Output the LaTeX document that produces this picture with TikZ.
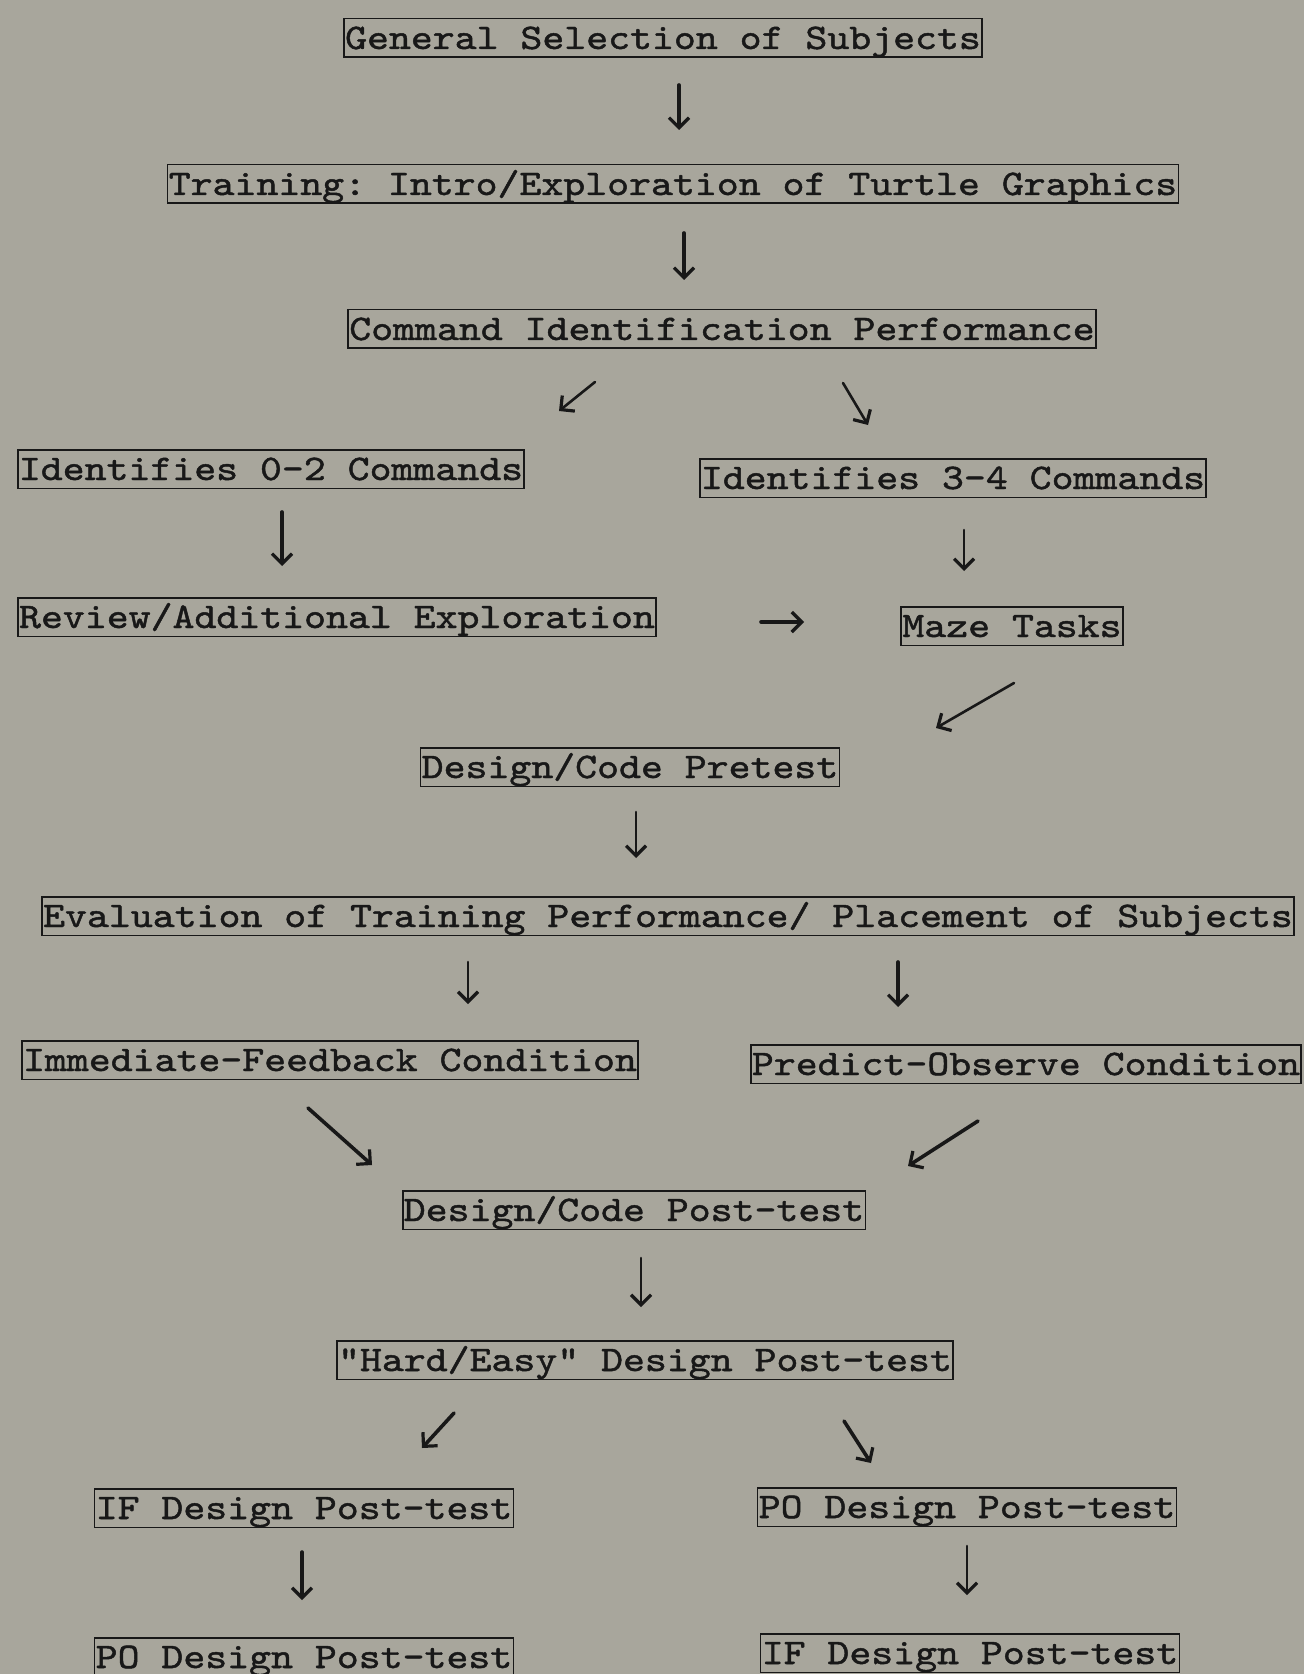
\documentclass[tikz,border=0pt]{standalone}
\usepackage{fontspec}
\usetikzlibrary{arrows.meta}
\newfontfamily\twf{lmmono10-regular.otf}[FakeBold=1.3, FakeStretch=1.16]
\definecolor{paper}{RGB}{168,166,156}
\definecolor{ink}{RGB}{24,24,24}
\frenchspacing
\begin{document}
\begin{tikzpicture}[x=0.5pt,y=-0.5pt,
  box/.style={draw=ink, text=ink, line width=0.9pt, inner xsep=0.6pt, inner ysep=4.2pt,
    text height=11pt, text depth=0pt, font=\fontsize{18}{20}\twf\frenchspacing},
  arr/.style={draw=ink, line width=1.8pt, line cap=round,
    -{Straight Barb[length=5pt,width=10pt,line width=1.6pt]}},
  arrthin/.style={arr, line width=1.3pt}]
\fill[paper] (0,0) rectangle (1304,1674);
\useasboundingbox (0,0) rectangle (1304,1674);

\node[box] (gen) at (663,38) {General Selection of Subjects};
\node[box] (train) at (673,184) {Training: Intro/Exploration of Turtle Graphics};
\node[box] (cmd) at (722,329) {Command Identification Performance};
\node[box] (id02) at (271,469) {Identifies 0-2 Commands};
\node[box] (id34) at (953,478) {Identifies 3-4 Commands};
\node[box] (review) at (337,617) {Review/Additional Exploration};
\node[box] (maze) at (1012,626) {Maze Tasks};
\node[box] (pre) at (630,767) {Design/Code Pretest};
\node[box] (eval) at (668,916) {Evaluation of Training Performance/ Placement of Subjects};
\node[box] (ifc) at (330,1060) {Immediate-Feedback Condition};
\node[box] (poc) at (1026,1064) {Predict-Observe Condition};
\node[box] (post) at (634,1210) {Design/Code Post-test};
\node[box] (hard) at (645,1360) {"Hard/Easy" Design Post-test};
\node[box] (ifl) at (304,1508) {IF Design Post-test};
\node[box] (por) at (967,1507) {PO Design Post-test};
\node[box] (pol) at (304,1657) {PO Design Post-test};
\node[box] (ifr) at (970,1653) {IF Design Post-test};

\coordinate (a1s) at (679,85);   \coordinate (a1e) at (679,130);
\coordinate (a2s) at (684,233);  \coordinate (a2e) at (684,280);
\coordinate (a3s) at (595,382);  \coordinate (a3e) at (559,411);
\coordinate (a4s) at (843,383);  \coordinate (a4e) at (868,425);
\coordinate (a5s) at (282,512);  \coordinate (a5e) at (282,566);
\coordinate (a6s) at (964,530);  \coordinate (a6e) at (964,571);
\coordinate (a7s) at (761,622);  \coordinate (a7e) at (804,622);
\coordinate (a8s) at (1014,683); \coordinate (a8e) at (936,728);
\coordinate (a9s) at (636,812);  \coordinate (a9e) at (636,858);
\coordinate (a10s) at (468,962); \coordinate (a10e) at (468,1004);
\coordinate (a11s) at (898,962); \coordinate (a11e) at (898,1007);
\coordinate (a12s) at (308,1108); \coordinate (a12e) at (372,1165);
\coordinate (a13s) at (978,1121); \coordinate (a13e) at (908,1166);
\coordinate (a14s) at (641,1258); \coordinate (a14e) at (641,1307);
\coordinate (a15s) at (454,1413); \coordinate (a15e) at (422,1448);
\coordinate (a16s) at (844,1421); \coordinate (a16e) at (871,1463);
\coordinate (a17s) at (302,1552); \coordinate (a17e) at (302,1600);
\coordinate (a18s) at (967,1546); \coordinate (a18e) at (967,1595);

\draw[arr] (a1s) -- (a1e);
\draw[arr] (a2s) -- (a2e);
\draw[arrthin] (a3s) -- (a3e);
\draw[arrthin] (a4s) -- (a4e);
\draw[arr] (a5s) -- (a5e);
\draw[arrthin] (a6s) -- (a6e);
\draw[arr] (a7s) -- (a7e);
\draw[arrthin] (a8s) -- (a8e);
\draw[arrthin] (a9s) -- (a9e);
\draw[arrthin] (a10s) -- (a10e);
\draw[arr] (a11s) -- (a11e);
\draw[arr] (a12s) -- (a12e);
\draw[arr] (a13s) -- (a13e);
\draw[arrthin] (a14s) -- (a14e);
\draw[arr] (a15s) -- (a15e);
\draw[arr] (a16s) -- (a16e);
\draw[arr] (a17s) -- (a17e);
\draw[arrthin] (a18s) -- (a18e);
\end{tikzpicture}
\end{document}
